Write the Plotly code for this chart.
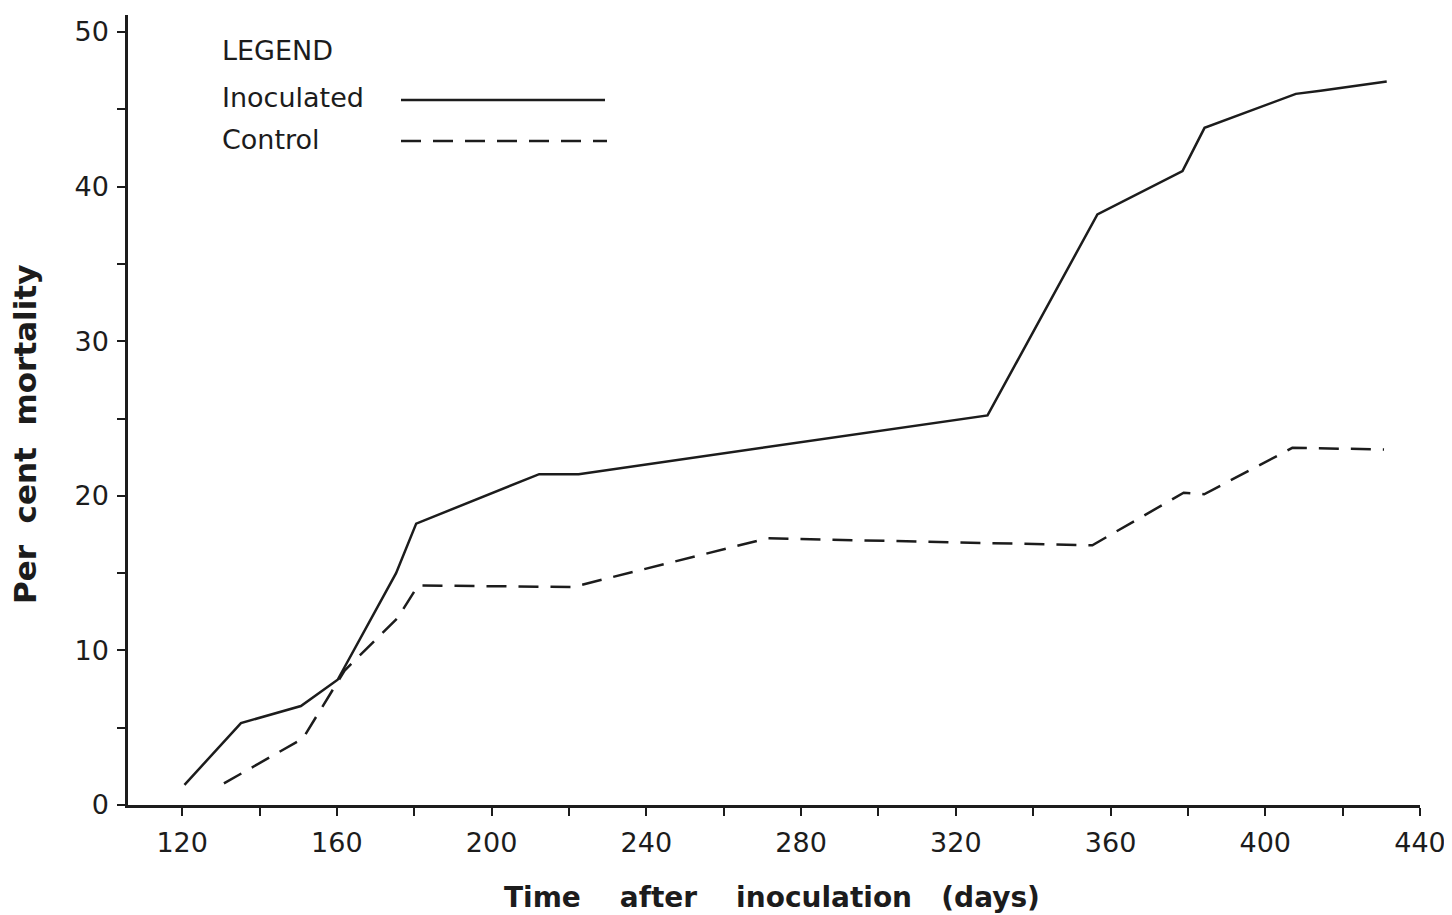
import plotly.graph_objects as go

# Inoculated (solid line)
inoc_days = [120.6, 135.2, 150.7, 160.2, 175.3, 180.5, 212.3, 222.5, 328.2, 356.6, 378.6, 384.3, 407.9, 414.3, 431.4]
inoc_pct = [1.3, 5.3, 6.4, 8.1, 15.0, 18.2, 21.4, 21.4, 25.2, 38.2, 41.0, 43.8, 46.0, 46.2, 46.8]

# Control (dashed line)
ctrl_days = [130.8, 151.2, 162.0, 175.7, 181.0, 221.0, 271.3, 355.3, 378.9, 384.2, 407.0, 430.7]
ctrl_pct = [1.4, 4.3, 8.7, 12.1, 14.2, 14.1, 17.25, 16.8, 20.2, 20.1, 23.1, 23.0]

x_ticks = list(range(120, 441, 20))
x_labels = [str(v) if v % 40 == 0 else "" for v in x_ticks]
y_ticks = list(range(0, 51, 5))
y_labels = [str(v) if v % 10 == 0 else "" for v in y_ticks]

INK = "#1c1c1c"
FONT = "DejaVu Sans"

fig = go.Figure()
fig.add_trace(go.Scatter(x=inoc_days, y=inoc_pct, mode="lines", name="Inoculated",
                         line=dict(color=INK, width=2.5), showlegend=False))
fig.add_trace(go.Scatter(x=ctrl_days, y=ctrl_pct, mode="lines", name="Control",
                         line=dict(color=INK, width=2.5, dash="20px,12px"), showlegend=False))

axis_common = dict(showline=True, linecolor=INK, linewidth=2.5, ticks="outside",
                   ticklen=8, tickwidth=2, tickcolor=INK, showgrid=False, zeroline=False,
                   automargin=False,
                   tickfont=dict(family=FONT, size=27, color=INK))

fig.update_xaxes(range=[106, 440], tickmode="array", tickvals=x_ticks, ticktext=x_labels,
                 ticklabelstandoff=4, **axis_common)
fig.update_yaxes(range=[0, 51.1], tickmode="array", tickvals=y_ticks, ticktext=y_labels,
                 ticklabelstandoff=3, **axis_common)

# Screen-pixel helpers (page has an 8px body margin)
def px_x(p):
    return (p - 128) / (1420 - 128)

def px_y(p):
    return (805 - p) / (805 - 15)

leg_font = dict(family=FONT, size=27, color=INK)
for txt, yy in [("LEGEND", 50), ("Inoculated", 97), ("Control", 140)]:
    fig.add_annotation(text=txt, xref="paper", yref="paper", x=px_x(220), y=px_y(yy),
                       xanchor="left", yanchor="middle", showarrow=False, font=leg_font)
fig.add_shape(type="line", xref="paper", yref="paper", x0=px_x(401), x1=px_x(605),
              y0=px_y(100), y1=px_y(100), line=dict(color=INK, width=2.5))
fig.add_shape(type="line", xref="paper", yref="paper", x0=px_x(401), x1=px_x(607),
              y0=px_y(141), y1=px_y(141), line=dict(color=INK, width=2.5, dash="20px,12px"))

# Axis titles
fig.add_annotation(text="Time\u00a0\u00a0\u00a0\u00a0after\u00a0\u00a0\u00a0\u00a0inoculation\u00a0\u00a0\u00a0(days)",
                   xref="paper", yref="paper", x=px_x(772), y=px_y(897),
                   xanchor="center", yanchor="middle", showarrow=False,
                   font=dict(family=FONT, size=28, color=INK, weight="bold"))
fig.add_annotation(text="Per\u00a0\u00a0cent\u00a0\u00a0mortality",
                   xref="paper", yref="paper", x=px_x(25), y=px_y(435),
                   xanchor="center", yanchor="middle", showarrow=False, textangle=-90,
                   font=dict(family=FONT, size=31, color=INK, weight="bold"))

fig.update_layout(width=1444, height=907, margin=dict(l=120, r=32, t=7, b=110),
                  paper_bgcolor="white", plot_bgcolor="white", showlegend=False)

fig.write_html("out.html")
